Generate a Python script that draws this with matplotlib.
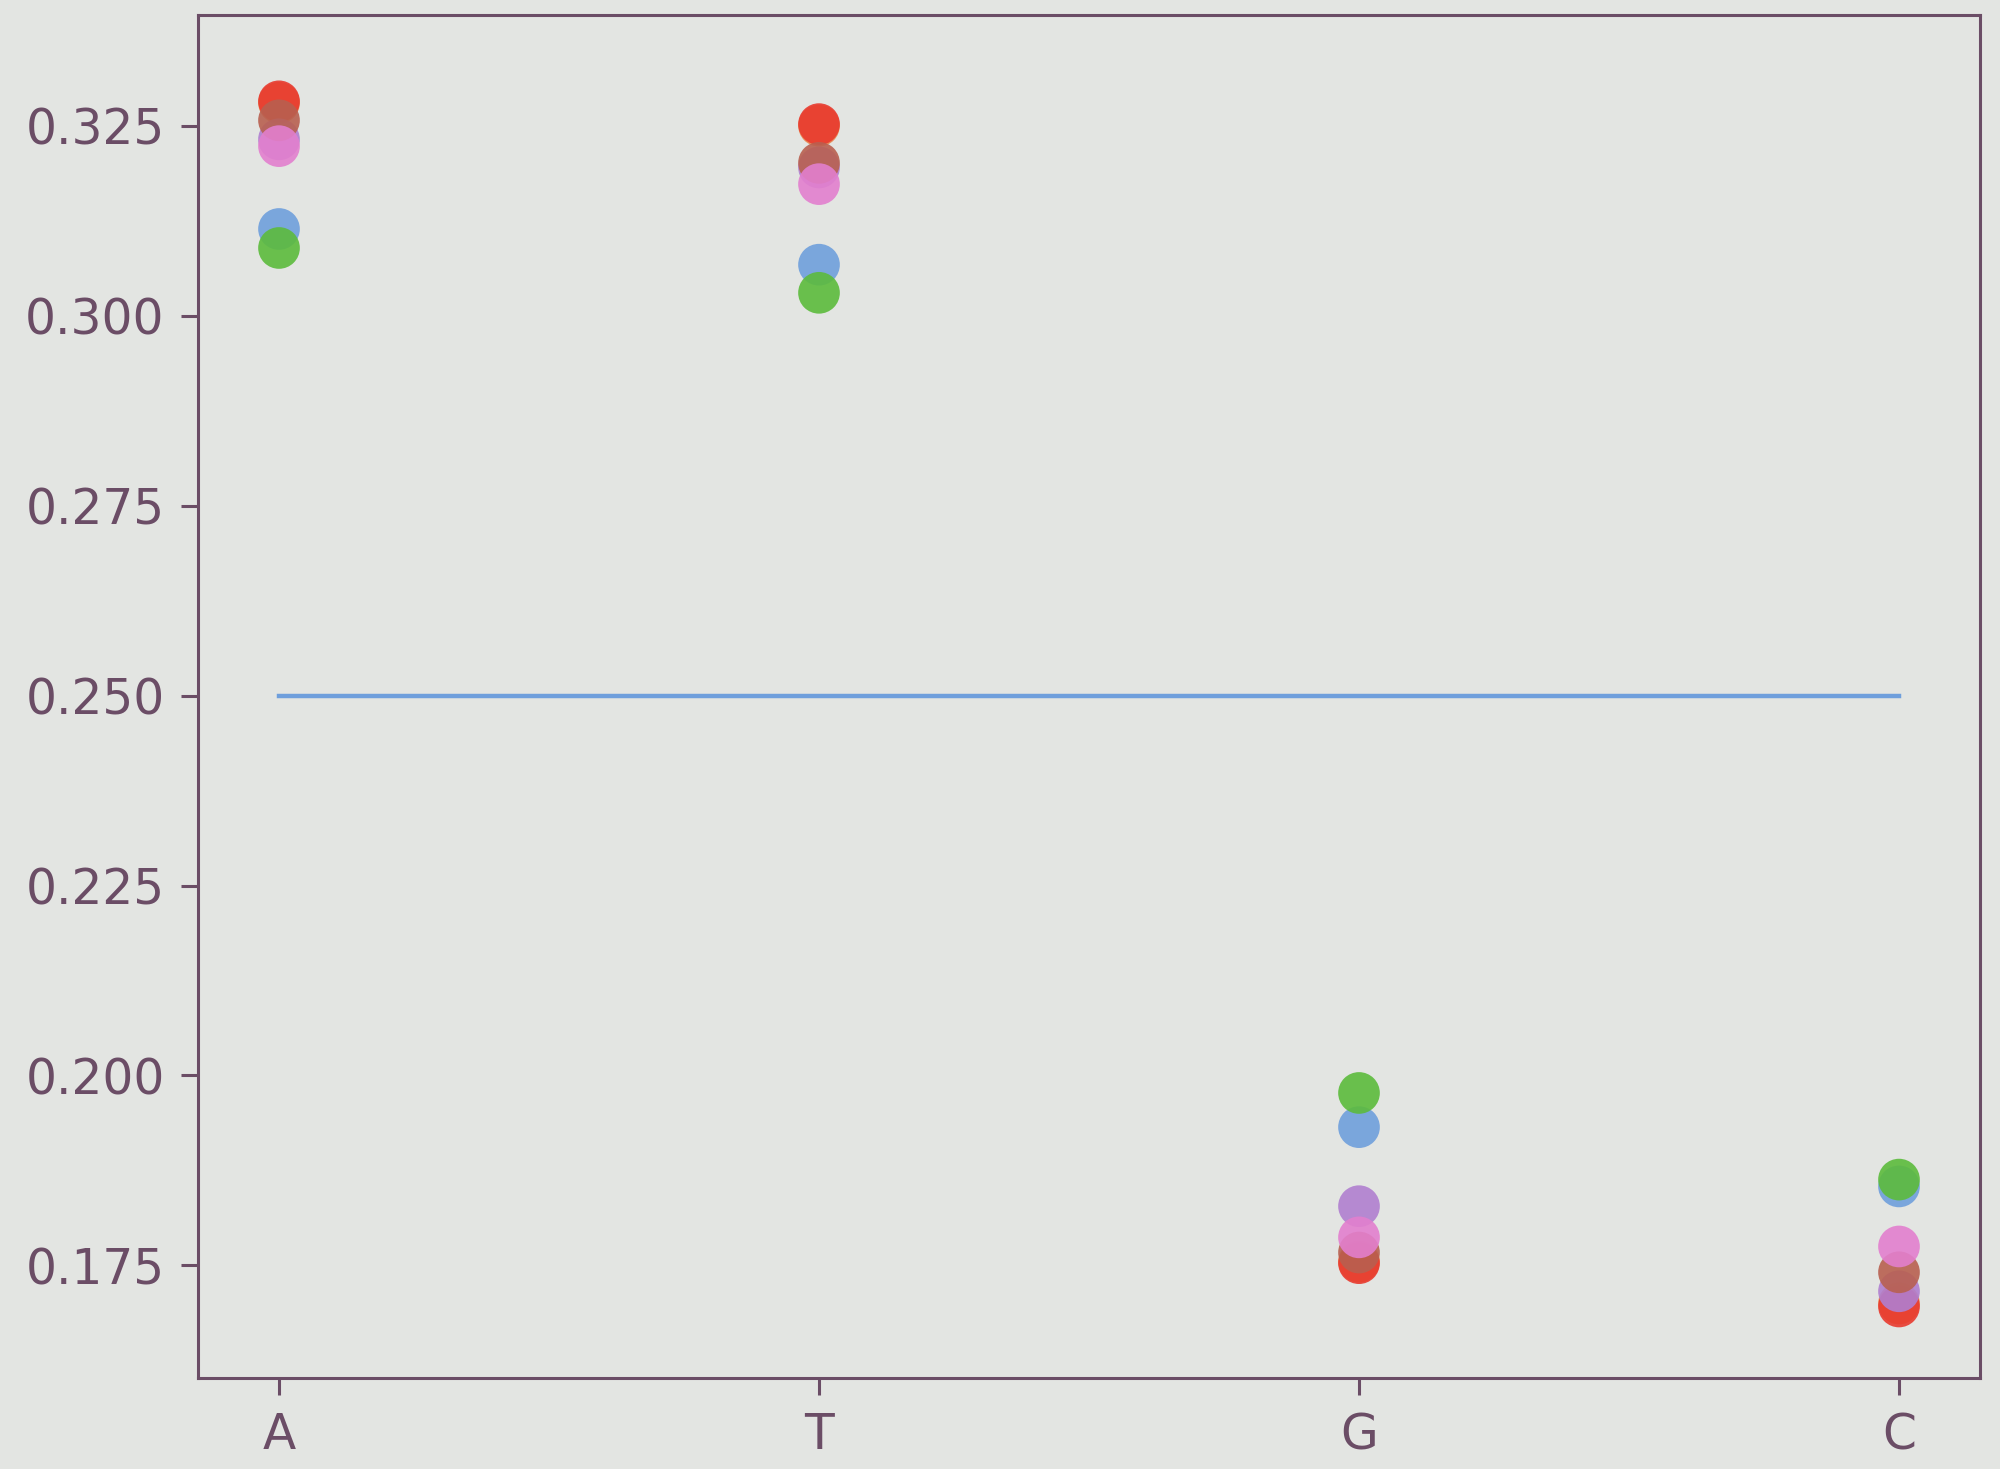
import numpy as np
import matplotlib.pyplot as plt

bases = ["A", "T", "G", "C"]

# base fraction per sample
blue = [0.3114, 0.3067, 0.1932, 0.1854]
orange = [0.3280, 0.3250, 0.1755, 0.1700]
green = [0.3089, 0.3030, 0.1977, 0.1863]
red = [0.3282, 0.3252, 0.1753, 0.1696]
purple = [0.3232, 0.3195, 0.1828, 0.1716]
brown = [0.3257, 0.3201, 0.1767, 0.1741]
pink = [0.3223, 0.3173, 0.1787, 0.1775]
expected = [0.25, 0.25, 0.25, 0.25]

series = [
    (blue, "#6f9fdc"),
    (orange, "#e9824a"),
    (green, "#5cbb3c"),
    (red, "#e83a2e"),
    (purple, "#b07fd0"),
    (brown, "#b86050"),
    (pink, "#e27fce"),
]

bg = "#e3e5e2"
fg = "#6b4d66"

fig = plt.figure(figsize=(20, 14.69), dpi=100, facecolor=bg)
ax = fig.add_axes([0.099, 0.062, 0.891, 0.928], facecolor=bg)

for vals, c in series:
    ax.scatter(bases, vals, s=900, color=c, alpha=0.9, edgecolors="none", zorder=3)

ax.plot(bases, expected, color="#6f9fdc", linewidth=3.2, zorder=2)

ax.set_ylim(0.1602, 0.3396)
ax.set_yticks([0.175, 0.200, 0.225, 0.250, 0.275, 0.300, 0.325])
ax.tick_params(labelsize=35, colors=fg, length=12, width=2.2, pad=12)
for s in ax.spines.values():
    s.set_color(fg)
    s.set_linewidth(2.2)

fig.savefig("out.png", dpi=100, facecolor=bg)
